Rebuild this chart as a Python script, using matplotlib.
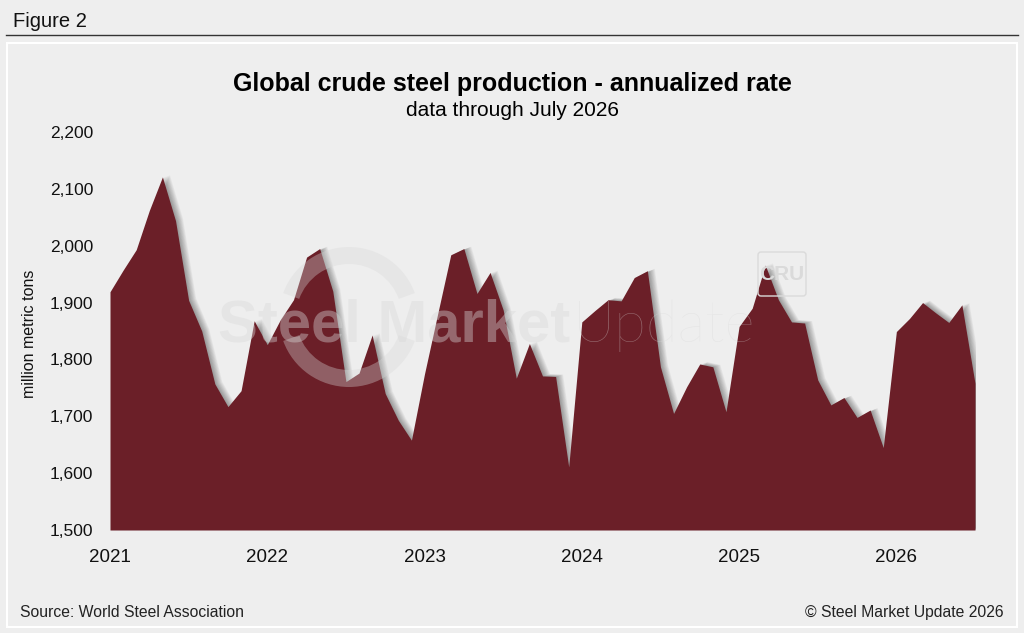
import matplotlib
matplotlib.use("Agg")
import matplotlib.pyplot as plt
import matplotlib.transforms as mtransforms
from matplotlib.patches import Rectangle, Wedge, FancyBboxPatch
import numpy as np

plt.rcParams['font.family'] = ['Liberation Sans', 'DejaVu Sans']

# annualized global crude steel production, million metric tons, Jan 2021 - Jul 2026
production = [1919, 1957, 1993, 2062, 2121, 2044, 1904, 1850, 1757, 1717, 1745, 1868,
              1826, 1870, 1905, 1980, 1995, 1920, 1761, 1776, 1843, 1740, 1693, 1658,
              1775, 1880, 1984, 1995, 1916, 1953, 1887, 1767, 1828, 1771, 1770, 1611,
              1866, 1886, 1905, 1903, 1944, 1956, 1787, 1705, 1752, 1792, 1787, 1708,
              1858, 1890, 1966, 1905, 1866, 1864, 1764, 1720, 1733, 1698, 1711, 1645,
              1849, 1872, 1900, 1882, 1865, 1896, 1758]
year_labels = ['2021', '2022', '2023', '2024', '2025', '2026']
year_ticks = [0, 12, 24, 36, 48, 60]
y_ticks = [1500, 1600, 1700, 1800, 1900, 2000, 2100, 2200]

BG = '#eeeeee'
FILL = '#6b1f28'
WM = '#d8d8d8'
W, H = 1024, 633

fig = plt.figure(figsize=(10.24, 6.33), dpi=100, facecolor=BG)

ax = fig.add_axes([110 / W, 1 - 530 / H, 865 / W, 398 / H])
ax.set_facecolor(BG)
months = np.arange(len(production))

# soft drop shadow, several shifted copies stacked
for i in range(1, 11):
    d = i * 0.7
    tr = mtransforms.offset_copy(ax.transData, fig=fig, x=d, y=d * 0.35, units='dots')
    ax.fill_between(months, production, y_ticks[0], transform=tr,
                    color='black', alpha=0.04, lw=0, zorder=2)
ax.fill_between(months, production, y_ticks[0], color=FILL, lw=0, zorder=3)

ax.set_xlim(0, len(production) - 1)
ax.set_ylim(y_ticks[0], y_ticks[-1])
ax.set_xticks(year_ticks)
ax.set_xticklabels(year_labels)
ax.set_yticks(y_ticks)
ax.set_yticklabels([f'{v:,}' for v in y_ticks])
ax.tick_params(axis='y', length=0, labelsize=12.5, pad=12, colors='#111111')
ax.tick_params(axis='x', length=0, labelsize=13.5, pad=13.5, colors='#111111')
for s in ax.spines.values():
    s.set_visible(False)

# overlay in pixel coords for the frame, texts and watermark
ov = fig.add_axes([0, 0, 1, 1], zorder=5)
ov.set_xlim(0, W)
ov.set_ylim(H, 0)
ov.axis('off')
ov.patch.set_alpha(0)

ov.text(12.7, 26.7, 'Figure 2', fontsize=14.5, va='baseline', color='#111111')
ov.plot([6, 1018], [34.5, 34.5], color='#333333', lw=1)
ov.add_patch(Rectangle((7, 42.5), 1010, 584, fill=False, ec='white', lw=1.5))

ov.text(512.5, 91.5, 'Global crude steel production - annualized rate',
        fontsize=18, fontweight='bold', ha='center', va='baseline')
ov.text(512.5, 116, 'data through July 2026', fontsize=15, ha='center', va='baseline')
ov.text(29.5, 334, 'million metric tons', fontsize=11.5, rotation=90,
        ha='center', va='center', color='#111111')

ov.text(19.5, 617, 'Source: World Steel Association', fontsize=11.3,
        va='baseline', color='#222222')
ov.text(1004, 617, '\u00a9 Steel Market Update 2026', fontsize=11.3,
        ha='right', va='baseline', color='#222222')

# watermark
ov.add_patch(Wedge((349, 317), 70, 200, 340, width=17, color=WM, alpha=0.35, lw=0))
ov.add_patch(Wedge((349, 317), 70, 20, 160, width=17, color=WM, alpha=0.35, lw=0))
ov.text(218, 341.7, 'Steel Market', fontsize=43, fontweight='bold', color=WM,
        alpha=0.4, va='baseline')
ov.text(573, 341.7, 'Update', fontsize=42, fontweight='light',
        family=['Lato', 'Liberation Sans'], color=WM, alpha=0.4, va='baseline')
ov.add_patch(FancyBboxPatch((758, 252), 48, 44, boxstyle='round,pad=0,rounding_size=3',
                            fc='none', ec='#dadada', lw=1))
ov.text(782, 275, 'CRU', fontsize=15, fontweight='bold', color='#dadada',
        ha='center', va='center')

fig.savefig('out.png', dpi=100, facecolor=BG)
